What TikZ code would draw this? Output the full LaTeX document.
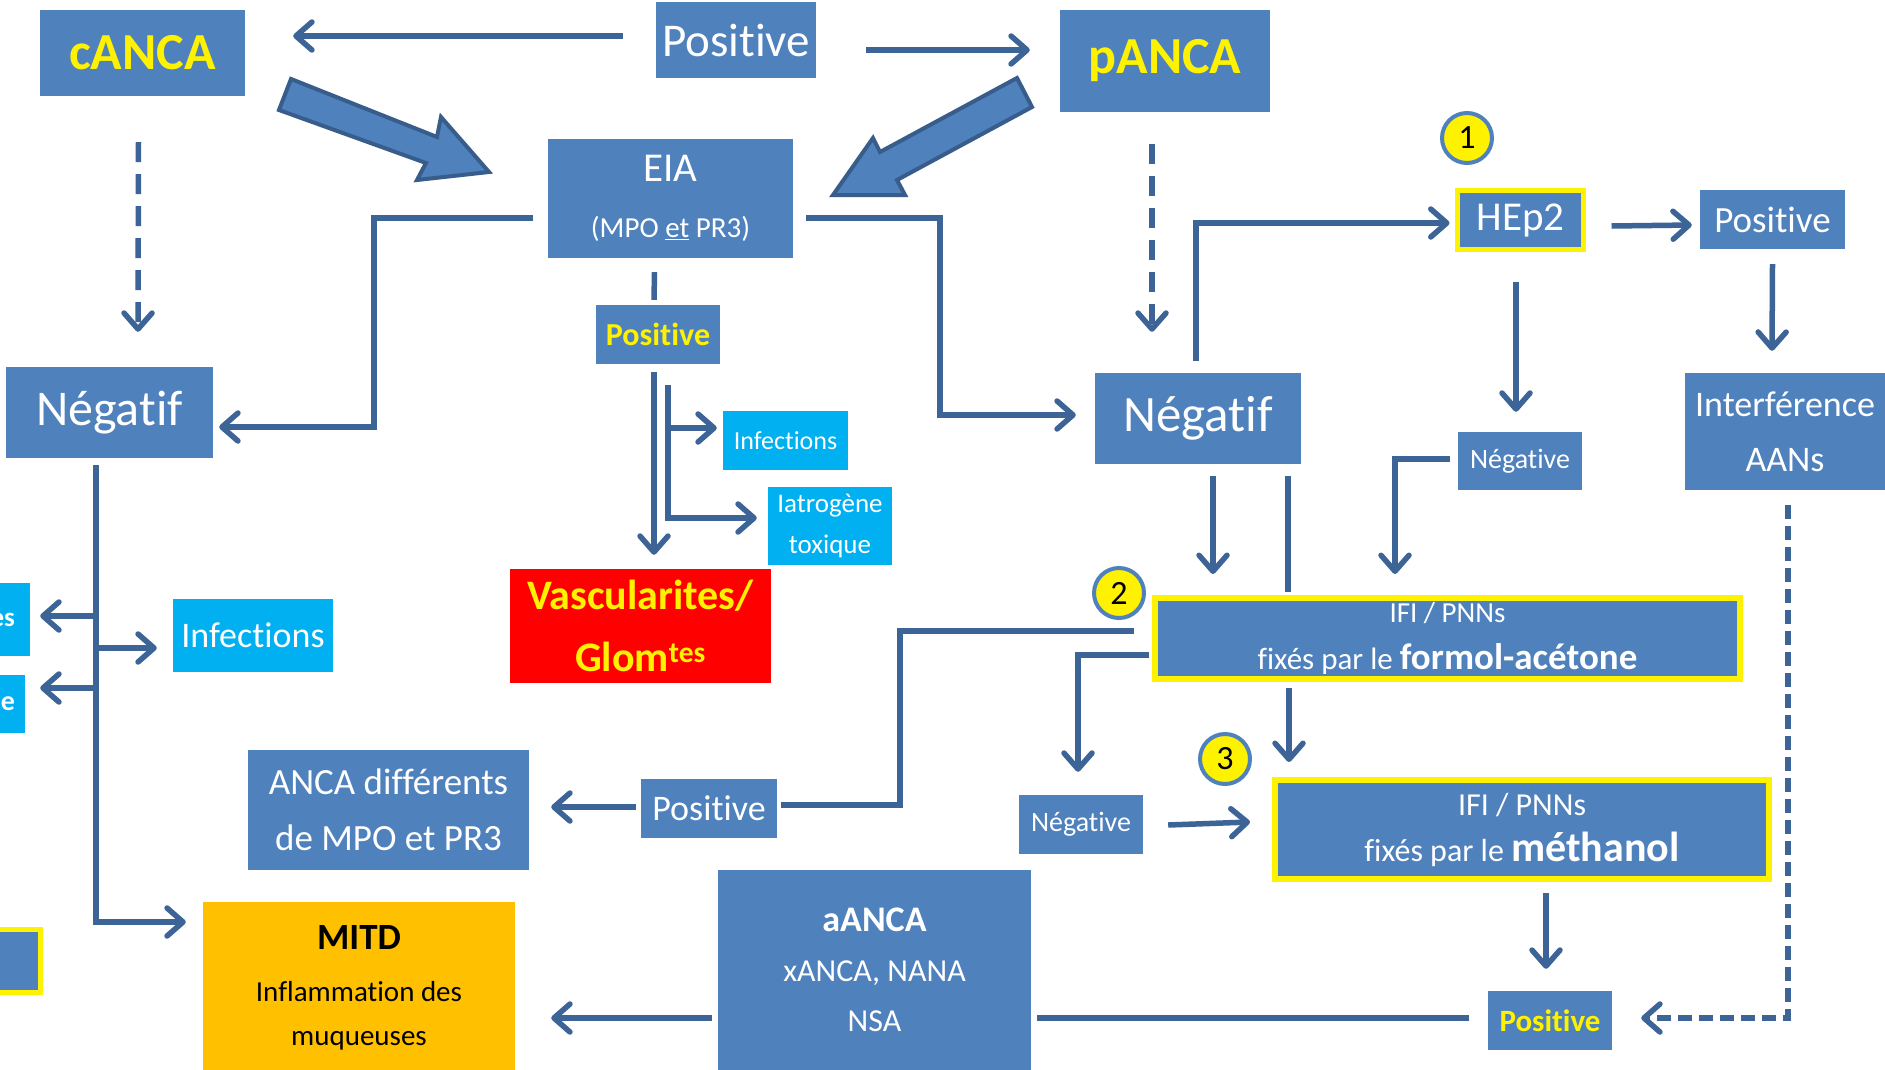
\documentclass[tikz,border=0pt]{standalone}
\usepackage{fontspec}
\setmainfont{Carlito}[RawFeature={-liga;-clig;-dlig}]
\usetikzlibrary{arrows.meta,calc}
\definecolor{boxblue}{HTML}{4F81BD}
\definecolor{lineblue}{HTML}{3D6497}
\definecolor{cyanbox}{HTML}{00B0F0}
\definecolor{orangebox}{HTML}{FFC000}
\definecolor{darkborder}{HTML}{385D8A}
\newcommand\fs[2]{\fontsize{#1}{#2}\selectfont}
\begin{document}
\begin{tikzpicture}[x=1pt,y=-1pt,
  box/.style={fill=boxblue, text=white, inner sep=0pt, align=center},
  ybox/.style={box, draw=yellow, line width=5pt},
  cbox/.style={fill=cyanbox, text=white, inner sep=0pt, align=center},
  conn/.style={draw=lineblue, line width=5.5pt},
  arr/.style={conn, -{Straight Barb[length=16pt,width=28pt,round]}},
  dasharr/.style={arr, dash pattern=on 20pt off 12pt},
  blockarr/.style={fill=boxblue, draw=darkborder, line width=4pt, line join=miter},
  numc/.style={circle, fill=yellow, draw=boxblue, line width=4pt, minimum size=50pt, inner sep=0pt, font=\fs{34}{40}}
]
\useasboundingbox (0,0) rectangle (1885,1069);
\fill[white] (0,0) rectangle (1885,1069);
\clip (0,0) rectangle (1885,1069);

% nodes
\node[box, minimum width=205, minimum height=86, font=\bfseries\fs{52}{60}, text=yellow] (cANCA) at (142.5,53) {cANCA};
\node[box, minimum width=160, minimum height=76, font=\fs{47}{56}] (posTop) at (736,40) {Positive};
\node[box, minimum width=210, minimum height=102, font=\bfseries\fs{52}{60}, text=yellow] (pANCA) at (1165,61) {pANCA};
\node[box, minimum width=245, minimum height=119, font=\fs{29}{56}] (EIA) at (670.5,198.5) {{\fs{41}{56}EIA}\\(MPO \underline{et} PR3)};
\node[box, minimum width=124, minimum height=59, font=\bfseries\fs{32}{38}, text=yellow] (posMid) at (658,334.5) {Positive};
\node[cbox, minimum width=125, minimum height=59, font=\fs{26}{30}] (infMid) at (785.5,440.5) {Infections};
\node[cbox, minimum width=124, minimum height=78, font=\fs{27}{41}] (iatro) at (830,526) {Iatrogène\\toxique};
\node[fill=red, text=yellow, inner sep=0pt, align=center, minimum width=261, minimum height=114, font=\bfseries\fs{42}{62}] (vasc) at (640.5,626) {Vascularites/\\Glom\textsuperscript{tes}};
\node[box, minimum width=207, minimum height=91, font=\fs{50}{60}] (negL) at (109.5,412.5) {Négatif};
\node[box, minimum width=206, minimum height=91, font=\fs{51}{60}] (negR) at (1198,418.5) {Négatif};
\node[numc] (n1) at (1467,138) {1};
\node[ybox, minimum width=126, minimum height=59, font=\fs{41}{48}] (hep2) at (1520.5,220) {HEp2};
\node[box, minimum width=145, minimum height=59, font=\fs{37}{44}] (posR) at (1772.5,219.5) {Positive};
\node[box, minimum width=200, minimum height=117, font=\fs{36}{55}] (interf) at (1785,431.5) {Interférence\\AANs};
\node[box, minimum width=124, minimum height=58, font=\fs{28}{34}] (negH) at (1520,461) {Négative};
\node[numc] (n2) at (1119,593) {2};
\node[ybox, line width=6pt, minimum width=585, minimum height=81, font=\fs{29}{47}] (ifi1) at (1447.5,638.5) {IFI / PNNs\\{\fs{31}{47}fixés par le \textbf{\fs{37}{47}formol-acétone}}};
\node[numc] (n3) at (1225,759) {3};
\node[ybox, line width=6pt, minimum width=494, minimum height=99, font=\fs{32}{46}] (ifi2) at (1522,829.5) {IFI / PNNs\\fixés par le \textbf{\fs{42}{46}méthanol}};
\node[box, minimum width=124, minimum height=59, font=\fs{28}{34}] (negLow) at (1081,824.5) {Négative};
\node[box, minimum width=124, minimum height=59, font=\bfseries\fs{31}{38}, text=yellow] (posBR) at (1550,1020.5) {Positive};
\node[box, minimum width=313, minimum height=200, font=\fs{32}{50}] (aanca) at (874.5,970) {\textbf{\fs{36}{50}aANCA}\\xANCA, NANA\\NSA};
\node[fill=orangebox, text=black, inner sep=0pt, align=center, minimum width=312, minimum height=172, font=\fs{29}{44}] (mitd) at (359,988) {\textbf{\fs{37}{44}MITD}\\[8pt]Inflammation des\\muqueuses};
\node[box, minimum width=281, minimum height=120, font=\fs{37}{56}] (ancaDiff) at (388.5,810) {ANCA différents\\de MPO et PR3};
\node[box, minimum width=136, minimum height=59, font=\fs{36}{44}] (posLL) at (709,808.5) {Positive};
\node[cbox, minimum width=160, minimum height=73, font=\fs{36}{44}] (infL) at (253,635.5) {Infections};
\node[cbox, minimum width=70, minimum height=73, text width=40, align=right, font=\bfseries\fs{27}{30}] (esBox) at (-5,619.5) {es};
\node[cbox, minimum width=70, minimum height=58, text width=50, align=right, font=\bfseries\fs{28}{30}] (ueBox) at (-10,704) {ue};
\node[ybox, minimum width=90, minimum height=63, anchor=east] (partBox) at (42.5,961) {};

% block arrows
\draw[blockarr] (291,79) -- (437,137) -- (441,117) -- (489,172) -- (417,180) -- (426,163) -- (279,110) -- cycle;
\draw[blockarr] (1017,78) -- (880,152) -- (873,138) -- (833,195) -- (905,195) -- (897,180) -- (1032,107) -- cycle;

% connectors
\draw[arr] ([shift={(-33,-4)}]posTop.west) -- ([shift={(48,-17)}]cANCA.east);
\draw[arr] ([shift={(50,10)}]posTop.east) -- ([shift={(-30,-11)}]pANCA.west);
\draw[dasharr] ([shift={(-4,46)}]cANCA.south) -- ([shift={(28.5,-35)}]negL.north);
\draw[dasharr] ([shift={(-13,32)}]pANCA.south) -- ([shift={(-46,-41)}]negR.north);
\draw[arr] ([shift={(-15,19.5)}]EIA.west) -- ++(-159,0) |- ([shift={(6,14.5)}]negL.east);
\draw[arr] ([shift={(13,19.5)}]EIA.east) -- ++(134,0) |- ([shift={(-19,-3.5)}]negR.west);
\draw[conn] ([shift={(-16,14)}]EIA.south) -- ([shift={(-4,-5)}]posMid.north);
\draw[arr] ([shift={(-4,8)}]posMid.south) -- ([shift={(13.5,-14)}]vasc.north);
\draw[arr] ([shift={(10,21)}]posMid.south) |- ([shift={(-6,-12.5)}]infMid.west);
\draw[arr] ([shift={(10,21)}]posMid.south) |- ([shift={(-11,-8)}]iatro.west);
\draw[arr] ([shift={(-2,-12)}]negR.north) |- ([shift={(-5.5,3)}]hep2.west);
\draw[arr] ([shift={(25.5,6)}]hep2.east) -- ([shift={(-8,5.5)}]posR.west);
\draw[arr] ([shift={(-4.5,29.5)}]hep2.south) -- ([shift={(-4,-20)}]negH.north);
\draw[arr] ([shift={(0,15)}]posR.south) -- ([shift={(-13,-22)}]interf.north);
\draw[arr] ([shift={(15,12)}]negR.south) -- ($(negR.south |- ifi1.north)+(15,-21)$);
\draw[conn] ([shift={(90,12)}]negR.south) -- ($(negR.south |- ifi1.north)+(90,-3)$);
\draw[arr] ([shift={(-8,-2)}]negH.west) -| ([shift={(-52.5,-21)}]ifi1.north);
\draw[conn] ([shift={(-18,-7.5)}]ifi1.west) -- ++(-234,0) |- ([shift={(4,-3.5)}]posLL.east);
\draw[arr] ([shift={(-3,16.5)}]ifi1.west) -| ([shift={(-3,-23)}]negLow.north);
\draw[arr] ([shift={(-158.5,6)}]ifi1.south) -- ($(ifi1.south |- ifi2.north)+(-158.5,-15)$);
\draw[arr] ([shift={(25,0.5)}]negLow.east) -- ([shift={(-22,-7.5)}]ifi2.west);
\draw[arr] ([shift={(24,11)}]ifi2.south) -- ([shift={(-4,-22)}]posBR.north);
\draw[arr, dash pattern=on 14pt off 7pt] ([shift={(3,15)}]interf.south) |- ([shift={(29,-2.5)}]posBR.east);
\draw[conn] ([shift={(-19,-2.5)}]posBR.west) -- ([shift={(6,48)}]aanca.east);
\draw[arr] ([shift={(-6,48)}]aanca.west) -- ([shift={(36,30)}]mitd.east);
\draw[arr] ([shift={(-5,-1.5)}]posLL.west) -- ([shift={(22,-3)}]ancaDiff.east);

\coordinate (trunkTop) at ([shift={(-13.5,7)}]negL.south);
\draw[arr] (trunkTop) |- ([shift={(-17,-66)}]mitd.west);
\coordinate (esT) at ([shift={(10,-3.5)}]esBox.east);
\draw[arr] (trunkTop |- esT) -- (esT);
\coordinate (infT) at ([shift={(-16,12.5)}]infL.west);
\draw[arr] (trunkTop |- infT) -- (infT);
\coordinate (ueT) at ([shift={(15,-16)}]ueBox.east);
\draw[arr] (trunkTop |- ueT) -- (ueT);
\end{tikzpicture}
\end{document}
